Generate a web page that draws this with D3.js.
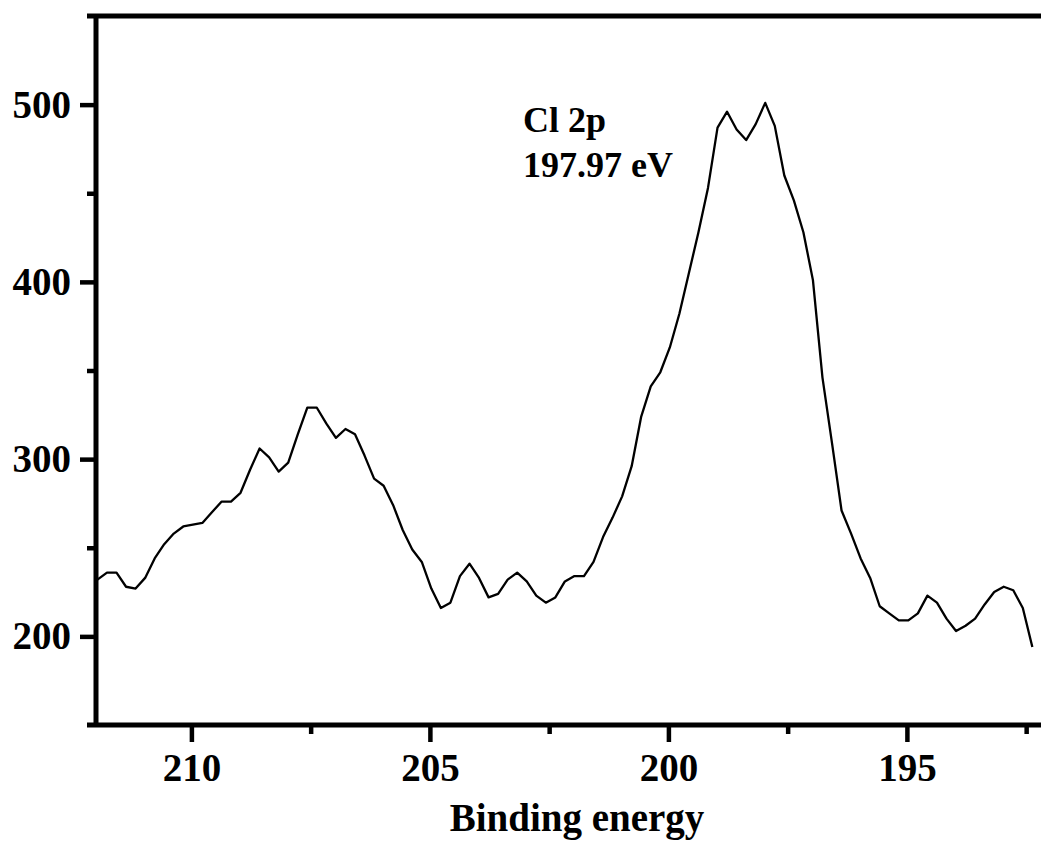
<!DOCTYPE html>
<html>
<head>
<meta charset="utf-8">
<script src="https://cdn.jsdelivr.net/npm/d3@7"></script>
<style>
  body { margin: 0; background: #fff; }
  svg { display: block; }
  text { font-family: "Liberation Serif", "Times New Roman", serif; font-weight: bold; fill: #000; }
</style>
</head>
<body>
<svg width="1041" height="848"></svg>
<script>
// Cl 2p XPS scan
const energy = [
  211.97, 211.77, 211.57, 211.37, 211.17, 210.97, 210.77, 210.57, 210.37, 210.17,
  209.97, 209.77, 209.57, 209.37, 209.17, 208.97, 208.77, 208.57, 208.37, 208.17,
  207.97, 207.77, 207.57, 207.37, 207.17, 206.97, 206.77, 206.57, 206.37, 206.17,
  205.97, 205.77, 205.57, 205.37, 205.17, 204.97, 204.77, 204.57, 204.37, 204.17,
  203.97, 203.77, 203.57, 203.37, 203.17, 202.97, 202.77, 202.57, 202.37, 202.17,
  201.97, 201.77, 201.57, 201.37, 201.17, 200.97, 200.77, 200.57, 200.37, 200.17,
  199.97, 199.77, 199.57, 199.37, 199.17, 198.97, 198.77, 198.57, 198.37, 198.17,
  197.97, 197.77, 197.57, 197.37, 197.17, 196.97, 196.77, 196.57, 196.37, 196.17,
  195.97, 195.77, 195.57, 195.37, 195.17, 194.97, 194.77, 194.57, 194.37, 194.17,
  193.97, 193.77, 193.57, 193.37, 193.17, 192.97, 192.77, 192.57, 192.37
];
const counts = [
  232, 236, 236, 228, 227, 233, 244, 252, 258, 262,
  263, 264, 270, 276, 276, 281, 294, 306, 301, 293,
  298, 314, 329, 329, 320, 312, 317, 314, 302, 289,
  285, 274, 260, 249, 242, 227, 216, 219, 234, 241,
  233, 222, 224, 232, 236, 231, 223, 219, 222, 231,
  234, 234, 242, 256, 267, 279, 296, 324, 341, 349,
  363, 382, 405, 428, 453, 487, 496, 486, 480, 489,
  501, 488, 460, 446, 428, 401, 346, 309, 271, 258,
  244, 233, 217, 213, 209, 209, 213, 223, 219, 210,
  203, 206, 210, 218, 225, 228, 226, 216, 194
];

const xMajor = [210, 205, 200, 195];
const xMinor = [207.5, 202.5, 197.5, 192.5];
const yMajor = [200, 300, 400, 500];
const yMinor = [250, 350, 450];

const xTitle = "Binding energy";
const noteLines = ["Cl 2p", "197.97 eV"];

var svg = d3.select("svg");
var W = 1041;

// plot box (right side runs past the picture edge)
var plotLeft = 96, plotTop = 16, plotBottom = 725, plotRight = 1050;

var x = d3.scaleLinear().domain([212, 192]).range([plotLeft, plotRight]);
var y = d3.scaleLinear().domain([150, 550]).range([plotBottom, plotTop]);

var data = energy.map(function(e, i) { return { e: e, c: counts[i] }; });

// curve
var line = d3.line()
    .x(function(d) { return x(d.e); })
    .y(function(d) { return y(d.c); });

svg.append("path")
    .datum(data)
    .attr("fill", "none")
    .attr("stroke", "#000")
    .attr("stroke-width", 2.3)
    .attr("stroke-linejoin", "round")
    .attr("d", line);

// y axis, major + minor
svg.append("g")
    .attr("transform", "translate(" + plotLeft + ",0)")
    .call(d3.axisLeft(y).tickValues(yMajor).tickSize(16).tickPadding(9).tickFormat(d3.format("d")));
svg.append("g")
    .attr("transform", "translate(" + plotLeft + ",0)")
    .call(d3.axisLeft(y).tickValues(yMinor).tickSize(9).tickFormat(""));

// x axis, major + minor
svg.append("g")
    .attr("transform", "translate(0," + plotBottom + ")")
    .call(d3.axisBottom(x).tickValues(xMajor).tickSize(17).tickPadding(11).tickFormat(d3.format("d")));
svg.append("g")
    .attr("transform", "translate(0," + plotBottom + ")")
    .call(d3.axisBottom(x).tickValues(xMinor).tickSize(9).tickFormat(""));

svg.selectAll(".domain").remove();
svg.selectAll(".tick line").attr("stroke", "#000").attr("stroke-width", 4.5);
svg.selectAll(".tick text")
    .attr("font-size", 39)
    .attr("font-family", "Liberation Serif, Times New Roman, serif")
    .attr("font-weight", "bold")
    .attr("fill", "#000");

// frame lines (left, bottom, top)
var frame = svg.append("g").attr("stroke", "#000").attr("stroke-width", 5);
frame.append("line").attr("x1", plotLeft).attr("x2", plotLeft).attr("y1", plotTop).attr("y2", plotBottom);
frame.append("line").attr("x1", plotLeft - 9).attr("x2", W).attr("y1", plotBottom).attr("y2", plotBottom);
frame.append("line").attr("x1", plotLeft - 9).attr("x2", W).attr("y1", plotTop).attr("y2", plotTop);

// axis title
svg.append("text")
    .attr("x", 577)
    .attr("y", 831)
    .attr("text-anchor", "middle")
    .attr("font-size", 39)
    .text(xTitle);

// peak note
svg.selectAll(".note")
    .data(noteLines)
    .enter().append("text")
    .attr("class", "note")
    .attr("x", 523)
    .attr("y", function(d, i) { return 132 + i * 45; })
    .attr("font-size", 36)
    .text(function(d) { return d; });
</script>
</body>
</html>
